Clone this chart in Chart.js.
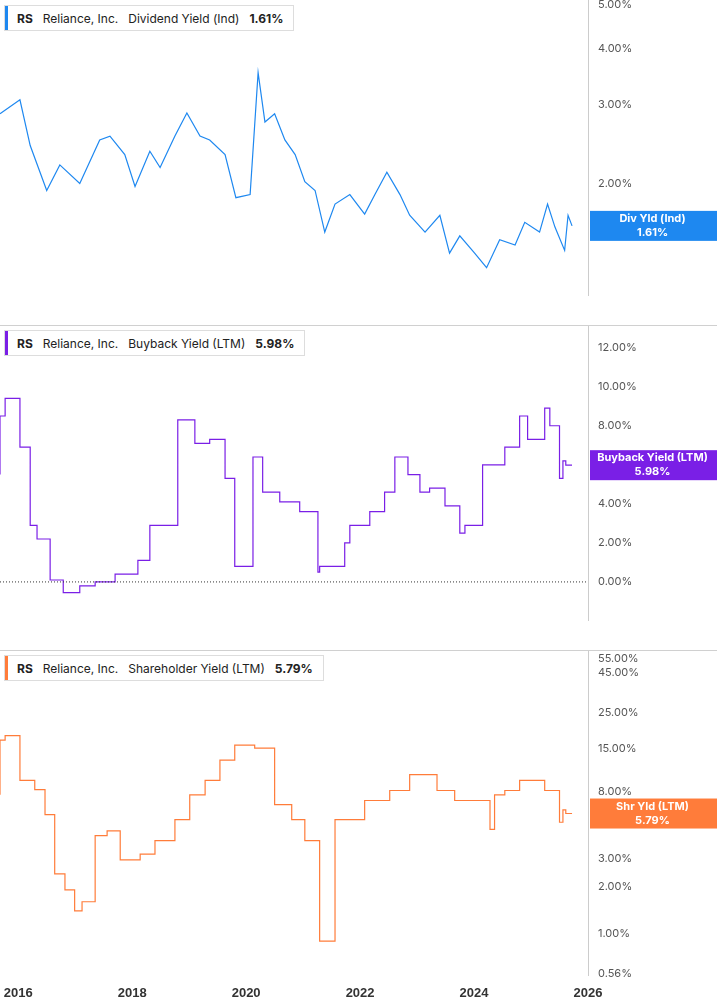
<!DOCTYPE html>
<html>
<head>
<meta charset="utf-8">
<script src="https://cdn.jsdelivr.net/npm/chart.js@4"></script>
<style>
  body { margin: 0; background: #fff; font-family: Inter, "Noto Sans", sans-serif; }
  .panel { position: relative; width: 717px; height: 325px; }
  .panel.last { height: 355px; }
  .sep { position: absolute; left: 0; top: 0; width: 717px; height: 1px; background: #d0d0d0; z-index: 3; }
  .legend { position: absolute; left: 4px; top: 5px; height: 24px; background: #fff; border: 1px solid #ddd;
            font-size: 12px; display: flex; align-items: center; padding: 0 10px 0 0; color: #222; z-index: 2; }
  .legend .bar { width: 3px; height: 100%; margin-right: 9px; }
  .legend b { font-weight: 700; }
  .legend span { margin-right: 10px; }
</style>
</head>
<body>
<div class="panel"><div class="legend"><div class="bar" style="background:#1e88f0"></div><span><b>RS</b></span><span>Reliance, Inc.</span><span>Dividend Yield (Ind)</span><b>1.61%</b></div><canvas id="c1"></canvas></div>
<div class="panel"><div class="sep"></div><div class="legend"><div class="bar" style="background:#7a1fe6"></div><span><b>RS</b></span><span>Reliance, Inc.</span><span>Buyback Yield (LTM)</span><b>5.98%</b></div><canvas id="c2"></canvas></div>
<div class="panel last"><div class="sep"></div><div class="legend"><div class="bar" style="background:#ff7c3a"></div><span><b>RS</b></span><span>Reliance, Inc.</span><span>Shareholder Yield (LTM)</span><b>5.79%</b></div><canvas id="c3"></canvas></div>
<script>
const xTicks = [2016, 2018, 2020, 2022, 2024, 2026];

const divDates = [2015.68, 2016.03, 2016.21, 2016.50, 2016.73, 2017.08, 2017.43, 2017.61, 2017.87, 2018.05, 2018.31, 2018.49, 2018.75, 2018.96, 2019.19, 2019.36, 2019.63, 2019.82, 2020.07, 2020.21, 2020.33, 2020.50, 2020.68, 2020.86, 2021.03, 2021.21, 2021.38, 2021.56, 2021.82, 2022.08, 2022.26, 2022.47, 2022.70, 2022.87, 2023.14, 2023.40, 2023.57, 2023.75, 2024.01, 2024.22, 2024.45, 2024.72, 2024.89, 2025.15, 2025.29, 2025.42, 2025.59, 2025.65, 2025.72];
const divValues = [2.86, 3.07, 2.43, 1.93, 2.2, 2.0, 2.5, 2.55, 2.32, 1.97, 2.36, 2.17, 2.55, 2.87, 2.55, 2.5, 2.32, 1.86, 1.89, 3.53, 2.74, 2.86, 2.5, 2.32, 2.02, 1.93, 1.56, 1.8, 1.89, 1.71, 1.89, 2.12, 1.89, 1.7, 1.56, 1.7, 1.4, 1.53, 1.4, 1.3, 1.5, 1.46, 1.64, 1.56, 1.8, 1.6, 1.42, 1.7, 1.61];
const divTicks = [2, 3, 4, 5];

const bbDates = [2015.68, 2015.77, 2016.03, 2016.21, 2016.33, 2016.56, 2016.79, 2017.08, 2017.35, 2017.70, 2018.10, 2018.31, 2018.80, 2019.10, 2019.36, 2019.63, 2019.80, 2020.12, 2020.29, 2020.59, 2020.94, 2021.26, 2021.29, 2021.73, 2021.82, 2022.17, 2022.43, 2022.61, 2022.84, 2023.05, 2023.22, 2023.49, 2023.75, 2023.84, 2024.15, 2024.54, 2024.80, 2024.94, 2025.24, 2025.33, 2025.50, 2025.56, 2025.61, 2025.72];
const bbValues = [5.5, 8.5, 9.4, 6.9, 2.9, 2.2, 0.1, -0.55, -0.2, 0.0, 0.4, 1.1, 2.9, 8.3, 7.1, 7.3, 5.3, 0.8, 6.4, 4.6, 4.1, 3.6, 0.5, 0.8, 2.0, 2.9, 3.6, 4.6, 6.4, 5.5, 4.6, 4.8, 3.9, 2.5, 2.9, 6.0, 6.9, 8.5, 7.3, 8.9, 8.0, 5.3, 6.2, 5.98];
const bbTicks = [0, 2, 4, 6, 8, 10, 12];

const shDates = [2015.68, 2015.77, 2016.03, 2016.29, 2016.47, 2016.64, 2016.82, 2016.99, 2017.12, 2017.35, 2017.56, 2017.79, 2018.14, 2018.40, 2018.75, 2019.01, 2019.28, 2019.54, 2019.80, 2020.15, 2020.50, 2020.80, 2021.03, 2021.29, 2021.56, 2021.73, 2022.08, 2022.52, 2022.87, 2023.35, 2023.66, 2024.01, 2024.28, 2024.36, 2024.54, 2024.80, 2025.24, 2025.50, 2025.56, 2025.61, 2025.72];
const shValues = [7.6, 16.9, 18, 9.4, 8.2, 5.7, 2.4, 1.9, 1.4, 1.6, 4.2, 4.5, 2.95, 3.2, 3.9, 5.3, 7.6, 9.4, 12.6, 15.7, 15.0, 6.6, 5.3, 3.9, 0.9, 5.3, 5.3, 7.0, 8.1, 10.2, 8.1, 7.0, 7.0, 4.6, 7.6, 8.1, 9.4, 8.1, 5.1, 6.1, 5.79];
const shTicks = [0.56, 1, 2, 3, 5, 8, 15, 25, 45, 55];

// y labels drawn by hand so Chart.js doesn't pad the plot area for them
const boxPlugin = {
  id: 'box',
  afterDraw(chart, args, o) {
    const ctx = chart.ctx, ca = chart.chartArea, ys = chart.scales.y;
    ctx.save();
    ctx.fillStyle = '#555'; ctx.font = '11px Inter, sans-serif'; ctx.textAlign = 'left'; ctx.textBaseline = 'middle';
    o.ticks.forEach(v => ctx.fillText(v.toFixed(2) + '%', ca.right + 10, ys.getPixelForValue(v)));
    if (o.zero) {
      const y0 = ys.getPixelForValue(0);
      ctx.setLineDash([1, 2]); ctx.strokeStyle = '#333'; ctx.lineWidth = 1;
      ctx.beginPath(); ctx.moveTo(ca.left, y0); ctx.lineTo(ca.right, y0); ctx.stroke(); ctx.setLineDash([]);
    }
    const y = ys.getPixelForValue(o.value);
    ctx.fillStyle = o.color;
    ctx.fillRect(ca.right + 2, y - 15, chart.width - ca.right - 2, 30);
    ctx.fillStyle = '#fff'; ctx.font = 'bold 11px Inter, sans-serif'; ctx.textAlign = 'center';
    const cx = (ca.right + chart.width) / 2;
    ctx.fillText(o.label, cx, y - 7);
    ctx.fillText(o.value.toFixed(2) + '%', cx, y + 7);
    ctx.restore();
  }
};

function makeChart(id, dates, values, color, yType, yMin, yMax, ticks, label, last, showX, zero, stepped) {
  return new Chart(document.getElementById(id), {
    type: 'line',
    data: { datasets: [{ data: dates.map((d, i) => ({ x: d, y: values[i] })), borderColor: color, borderWidth: 1.2,
      pointRadius: 0, stepped: stepped ? 'after' : false, tension: 0 }] },
    options: {
      responsive: true, maintainAspectRatio: false, animation: false,
      layout: { padding: 0 },
      plugins: { legend: { display: false }, tooltip: { enabled: false },
        box: { value: last, label: label, color: color, zero: zero, ticks: ticks } },
      scales: {
        x: { type: 'linear', min: 2015.68, max: 2026, display: showX, grid: { display: false },
          border: { display: false },
          afterFit: s => { s.height = 30; },
          afterBuildTicks: s => { s.ticks = xTicks.map(v => ({ value: v })); },
          ticks: { color: '#333', font: { size: 13, weight: 'bold' }, callback: v => String(v), maxRotation: 0 } },
        y: { type: yType, position: 'right', min: yMin, max: yMax, grid: { display: false },
          border: { display: true, color: '#ccc' },
          afterFit: s => { s.width = 129; },
          ticks: { display: false } }
      }
    },
    plugins: [boxPlugin]
  });
}

makeChart('c1', divDates, divValues, '#1e88f0', 'logarithmic', 1.13, 5.12, divTicks, 'Div Yld (Ind)', 1.61, false, false, false);
makeChart('c2', bbDates, bbValues, '#7a1fe6', 'linear', -1.95, 13.16, bbTicks, 'Buyback Yield (LTM)', 5.98, false, true, true);
makeChart('c3', shDates, shValues, '#ff7c3a', 'logarithmic', 0.55, 62.8, shTicks, 'Shr Yld (LTM)', 5.79, true, false, true);
</script>
</body>
</html>
